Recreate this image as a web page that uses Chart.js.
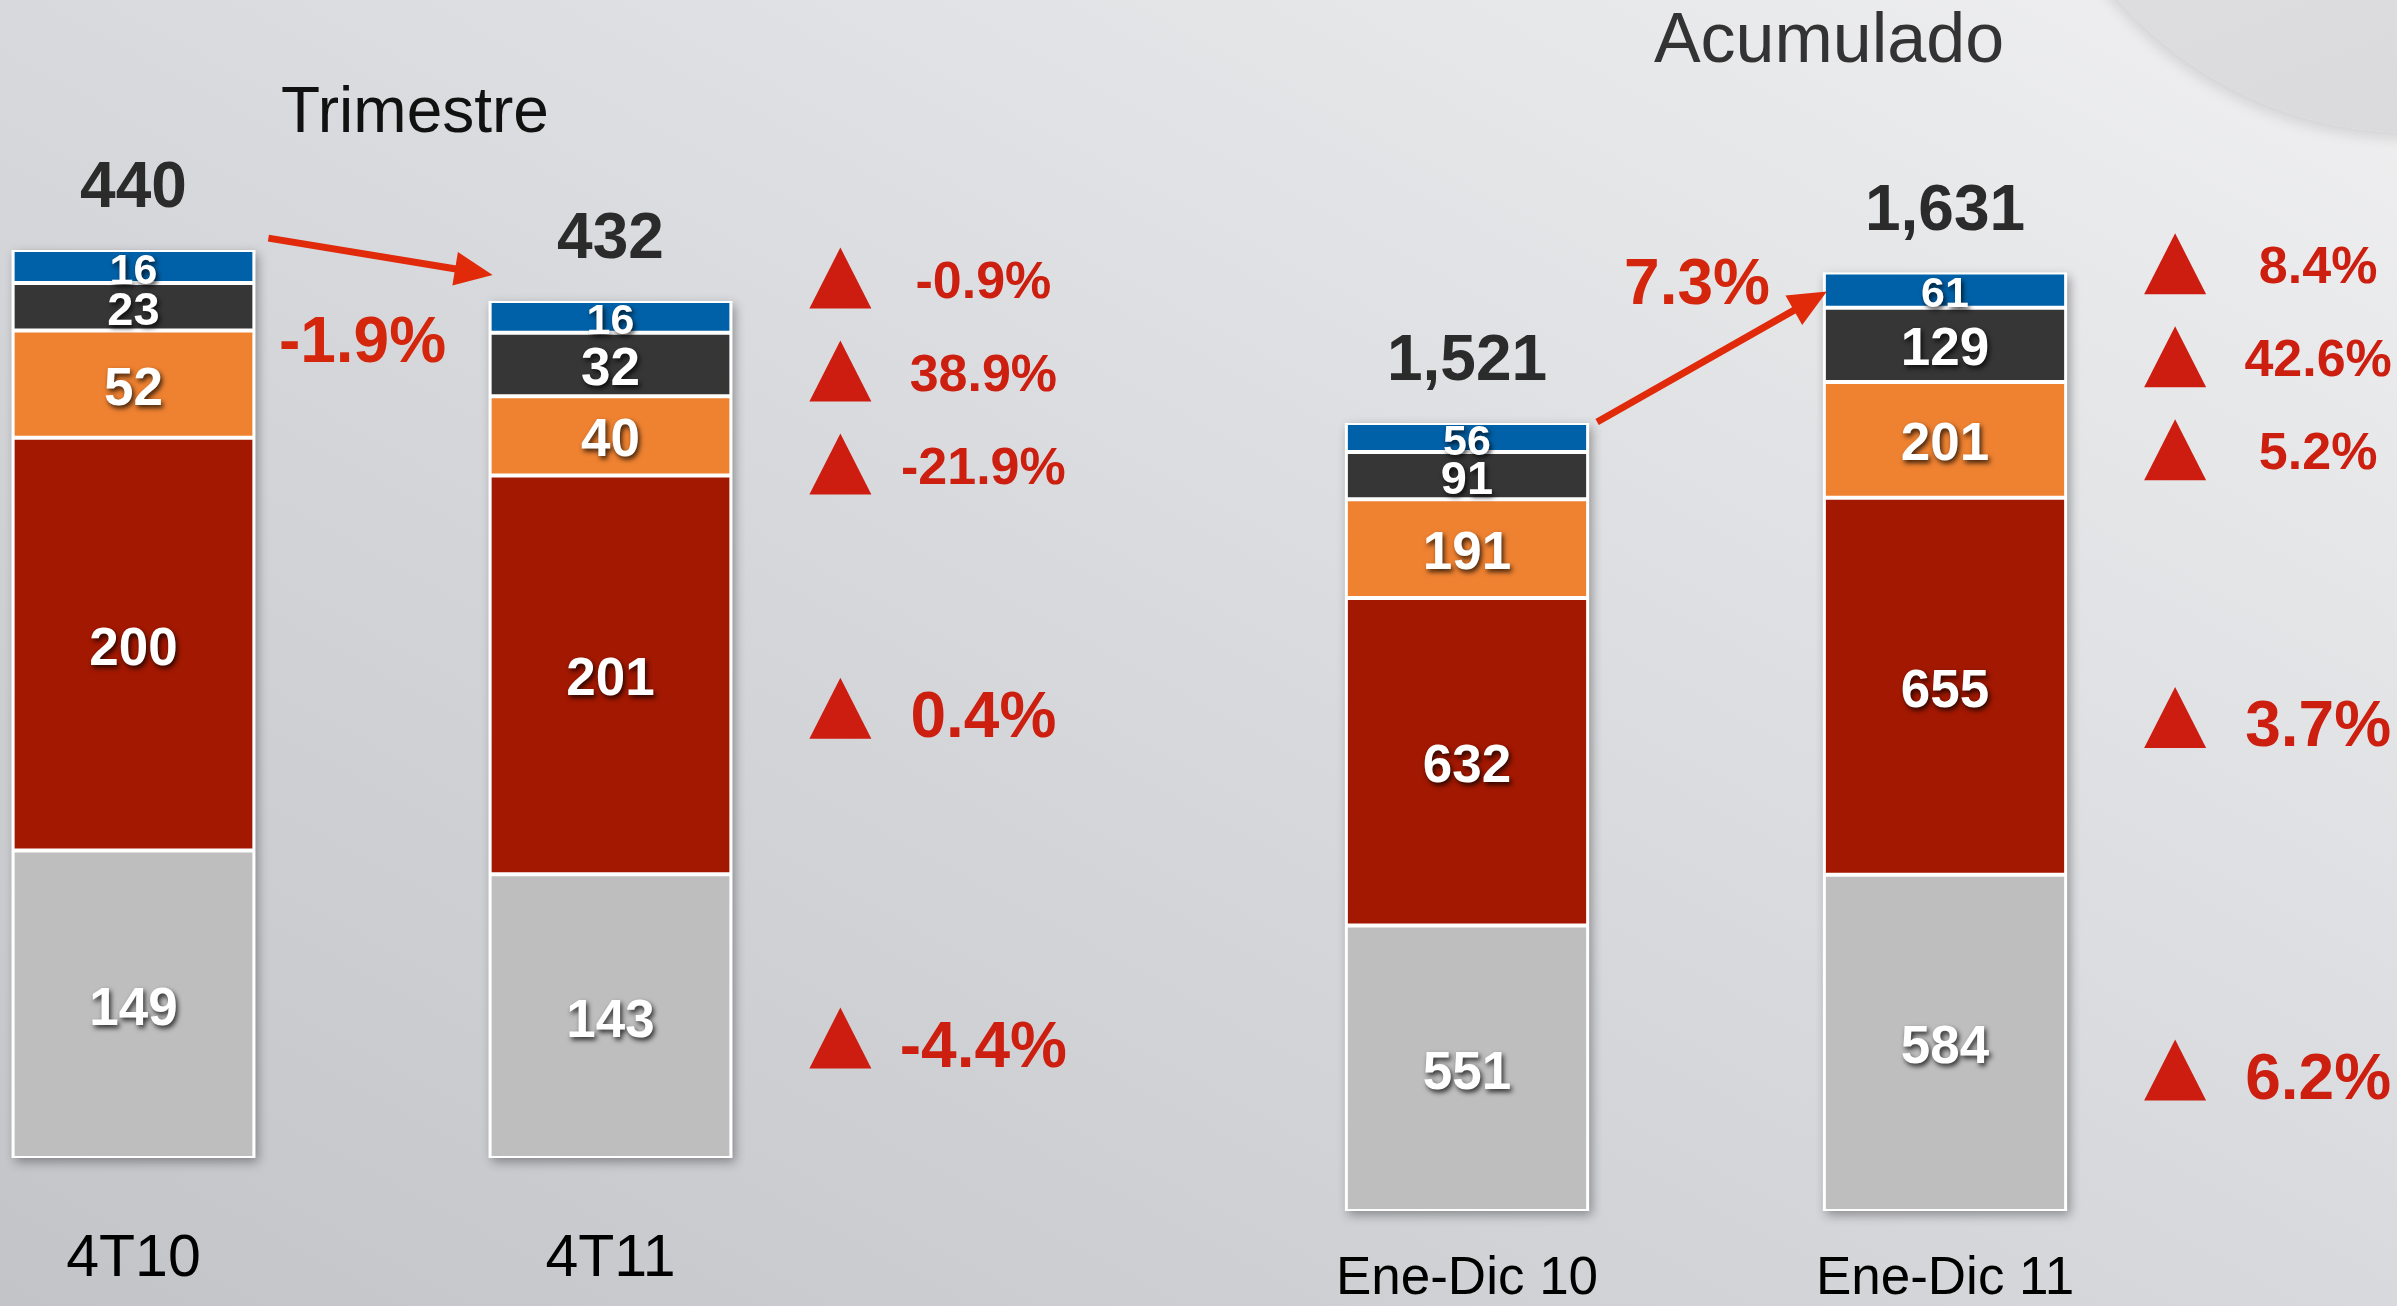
<!DOCTYPE html>
<html>
<head>
<meta charset="utf-8">
<title>Trimestre / Acumulado</title>
<script src="https://cdn.jsdelivr.net/npm/chart.js@4.4.1/dist/chart.umd.min.js"></script>
<style>
  html, body { margin: 0; padding: 0; }
  body {
    width: 2397px;
    height: 1306px;
    overflow: hidden;
    position: relative;
    background: linear-gradient(to top right, #c2c4c8 0%, #d6d7db 45%, #e4e5e7 75%, #f0f0f1 100%);
    font-family: "Liberation Sans", Arial, sans-serif;
  }
  .disc {
    position: absolute;
    left: 2021px;
    top: -649px;
    width: 782px;
    height: 782px;
    border-radius: 50%;
    background: linear-gradient(160deg, #e4e4e6 0%, #d9d9dc 100%);
    box-shadow: -2px 5px 14px rgba(0, 0, 0, 0.12);
  }
  .title {
    position: absolute;
    line-height: 1;
    white-space: nowrap;
    transform: translateX(-50%);
  }
  canvas { position: absolute; top: 0; }
</style>
</head>
<body>
<div class="disc"></div>
<div class="title" style="left:415px; top:78px; font-size:64px; color:#111;">Trimestre</div>
<div class="title" style="left:1829px; top:3px; font-size:70px; color:#333;">Acumulado</div>
<canvas id="quarterChart" width="1300" height="1400" style="left:-105px;"></canvas>
<canvas id="ytdChart" width="1169" height="1400" style="left:1228px;"></canvas>

<script>
// ---- data (segments listed bottom -> top) ----
const quarterLabels = ["4T10", "4T11"];
const quarterGray = [149, 143];
const quarterRed = [200, 201];
const quarterOrange = [52, 40];
const quarterDark = [23, 32];
const quarterBlue = [16, 16];
const quarterTotals = [440, 432];
const quarterChange = ["-4.4%", "0.4%", "-21.9%", "38.9%", "-0.9%"];
const quarterGrowth = "-1.9%";

const ytdLabels = ["Ene-Dic 10", "Ene-Dic 11"];
const ytdGray = [551, 584];
const ytdRed = [632, 655];
const ytdOrange = [191, 201];
const ytdDark = [91, 129];
const ytdBlue = [56, 61];
const ytdTotals = [1521, 1631];
const ytdChange = ["6.2%", "3.7%", "5.2%", "42.6%", "8.4%"];
const ytdGrowth = "7.3%";

const SEGMENT_COLORS = ["#bebebe", "#a31800", "#ef8231", "#363636", "#0061a8"];
const FONT = '"Liberation Sans", Arial, sans-serif';
const RED_TEXT = "#cc1f10";
const LABEL_GAP = 93;

/**
 * One dataset per segment per bar, so every bar gets its own value axis.
 */
function buildDatasets(series) {
    const sets = [];
    for (let b = 0; b < 2; b++) {
        series.forEach((vals, s) => {
            sets.push({
                data: vals.map((v, i) => (i === b ? v : null)),
                backgroundColor: SEGMENT_COLORS[s],
                borderColor: "#ffffff",
                borderWidth: { top: 2, bottom: 2, left: 3, right: 3 },
                borderSkipped: false,
                yAxisID: "y" + b,
                stack: "total",
                barPercentage: 0.511,
                categoryPercentage: 1,
                barIndex: b,
                segIndex: s,
            });
        });
    }
    return sets;
}

function barGeometry(chart, b) {
    const segs = [];
    chart.data.datasets.forEach((ds, i) => {
        if (ds.barIndex !== b) return;
        const el = chart.getDatasetMeta(i).data[b];
        segs.push({ el: el, value: ds.data[b], seg: ds.segIndex });
    });
    const first = segs[0].el;
    return {
        segs: segs,
        cx: first.x,
        left: first.x - first.width / 2,
        right: first.x + first.width / 2,
        top: Math.min(...segs.map((s) => s.el.y)),
        bottom: first.base,
    };
}

/**
 * Spread label positions so that neighbours keep at least `gap` apart,
 * centring each crowded group on the mean of what it wanted.
 */
function spreadLabels(wanted, gap) {
    let groups = wanted.map((y, i) => ({ ids: [i], mean: y }))
        .sort((a, b) => a.mean - b.mean);
    let merged = true;
    while (merged) {
        merged = false;
        for (let i = 0; i < groups.length - 1; i++) {
            const a = groups[i], c = groups[i + 1];
            const aEnd = a.mean + (a.ids.length - 1) * gap / 2;
            const cStart = c.mean - (c.ids.length - 1) * gap / 2;
            if (cStart - aEnd < gap) {
                const ids = a.ids.concat(c.ids);
                const mean = ids.reduce((t, k) => t + wanted[k], 0) / ids.length;
                groups.splice(i, 2, { ids: ids, mean: mean });
                merged = true;
                break;
            }
        }
    }
    const out = [];
    groups.forEach((g) => {
        const sorted = g.ids.slice().sort((p, q) => wanted[p] - wanted[q]);
        sorted.forEach((k, j) => {
            out[k] = g.mean + (j - (sorted.length - 1) / 2) * gap;
        });
    });
    return out;
}

function drawArrow(ctx, x1, y1, x2, y2) {
    const len = Math.hypot(x2 - x1, y2 - y1);
    const ux = (x2 - x1) / len, uy = (y2 - y1) / len;
    const headLen = 38, headW = 34;
    const bx = x2 - ux * headLen, by = y2 - uy * headLen;
    ctx.save();
    ctx.strokeStyle = "#e02a0a";
    ctx.fillStyle = "#e02a0a";
    ctx.lineWidth = 7;
    ctx.beginPath();
    ctx.moveTo(x1, y1);
    ctx.lineTo(bx + ux * 4, by + uy * 4);
    ctx.stroke();
    ctx.beginPath();
    ctx.moveTo(x2, y2);
    ctx.lineTo(bx - uy * headW / 2, by + ux * headW / 2);
    ctx.lineTo(bx + uy * headW / 2, by - ux * headW / 2);
    ctx.closePath();
    ctx.fill();
    ctx.restore();
}

const decorPlugin = {
    id: "decor",
    beforeDatasetsDraw(chart) {
        const ctx = chart.ctx;
        [0, 1].forEach((b) => {
            const bar = barGeometry(chart, b);
            ctx.save();
            ctx.shadowColor = "rgba(0,0,0,0.35)";
            ctx.shadowBlur = 10;
            ctx.shadowOffsetX = 3;
            ctx.shadowOffsetY = 4;
            ctx.fillStyle = "#ffffff";
            ctx.fillRect(bar.left, bar.top, bar.right - bar.left, bar.bottom - bar.top);
            ctx.restore();
        });
    },
    afterDatasetsDraw(chart) {
        const ctx = chart.ctx;
        [0, 1].forEach((b) => {
            barGeometry(chart, b).segs.forEach((s) => {
                const h = s.el.base - s.el.y;
                const size = h < 36 ? 43 : h < 52 ? 47 : 53;
                ctx.save();
                ctx.font = "bold " + size + "px " + FONT;
                ctx.fillStyle = "#ffffff";
                ctx.textAlign = "center";
                ctx.textBaseline = "alphabetic";
                ctx.shadowColor = "rgba(0,0,0,0.75)";
                ctx.shadowBlur = 5;
                ctx.shadowOffsetX = 2;
                ctx.shadowOffsetY = 3;
                ctx.fillText(String(s.value), s.el.x, (s.el.y + s.el.base) / 2 + size * 0.35 + 2);
                ctx.restore();
            });
        });
    },
    afterDraw(chart, args, opts) {
        const ctx = chart.ctx;
        const bars = [barGeometry(chart, 0), barGeometry(chart, 1)];

        // totals above each bar
        ctx.save();
        ctx.font = "bold 64px " + FONT;
        ctx.fillStyle = "#2b2b2b";
        ctx.textAlign = "center";
        bars.forEach((bar, b) => {
            ctx.fillText(opts.totals[b].toLocaleString("en-US"), bar.cx, bar.top - 43);
        });
        ctx.restore();

        // arrow between the bars and the growth figure
        const x1 = bars[0].right + opts.arrowFrom[0], y1 = bars[0].top + opts.arrowFrom[1];
        const x2 = bars[1].left + opts.arrowTo[0], y2 = bars[1].top + opts.arrowTo[1];
        drawArrow(ctx, x1, y1, x2, y2);
        ctx.save();
        ctx.font = "bold 64px " + FONT;
        ctx.fillStyle = "#d4260c";
        ctx.textAlign = "center";
        ctx.fillText(opts.growth, (x1 + x2) / 2 + opts.growthOffset[0], (y1 + y2) / 2 + opts.growthOffset[1]);
        ctx.restore();

        // change per segment, beside the second bar
        const bar = bars[1];
        const wanted = bar.segs.map((s) => {
            const h = s.el.base - s.el.y;
            return (s.el.y + s.el.base) / 2 + (h > 200 ? 0.1 * h : 0);
        });
        const ys = spreadLabels(wanted, LABEL_GAP);
        bar.segs.forEach((s, i) => {
            const h = s.el.base - s.el.y;
            const size = h > 200 ? 64 : 52;
            const cap = size * 0.7;
            const cy = ys[i];
            const tx = bar.right + 108;
            ctx.save();
            ctx.fillStyle = "#cc1d10";
            const tc = cy - (size > 60 ? 6 : 1);
            ctx.beginPath();
            ctx.moveTo(tx - 31, tc + 30);
            ctx.lineTo(tx + 31, tc + 30);
            ctx.lineTo(tx, tc - 31);
            ctx.closePath();
            ctx.fill();
            ctx.font = "bold " + size + "px " + FONT;
            ctx.fillStyle = RED_TEXT;
            ctx.textAlign = "center";
            ctx.fillText(opts.changes[s.seg], bar.right + 251, cy + cap / 2);
            ctx.restore();
        });
    },
};

function makeChart(canvasId, labels, series, cfg) {
    return new Chart(document.getElementById(canvasId), {
        type: "bar",
        data: { labels: labels, datasets: buildDatasets(series) },
        plugins: [decorPlugin],
        options: {
            responsive: false,
            animation: false,
            layout: { padding: { left: 0, right: cfg.padRight, top: 0, bottom: cfg.padBottom } },
            plugins: {
                legend: { display: false },
                tooltip: { enabled: false },
                decor: cfg.decor,
            },
            scales: {
                x: {
                    stacked: true,
                    offset: true,
                    grid: { display: false, drawTicks: false },
                    border: { display: false },
                    ticks: {
                        color: "#000000",
                        font: { family: FONT, size: cfg.tickSize, lineHeight: 1 },
                        padding: cfg.tickPadding,
                        maxRotation: 0,
                    },
                },
                y0: { stacked: true, display: false, min: 0, max: cfg.yMax[0] },
                y1: { stacked: true, display: false, min: 0, max: cfg.yMax[1] },
            },
        },
    });
}

makeChart("quarterChart", quarterLabels,
    [quarterGray, quarterRed, quarterOrange, quarterDark, quarterBlue], {
        padRight: 346,
        padBottom: 39,
        tickSize: 59,
        tickPadding: 72,
        yMax: [561.2, 583.7],
        decor: {
            totals: quarterTotals,
            changes: quarterChange,
            growth: quarterGrowth,
            arrowFrom: [13, -12],
            arrowTo: [4, -26],
            growthOffset: [-18, 105],
        },
    });

makeChart("ytdChart", ytdLabels,
    [ytdGray, ytdRed, ytdOrange, ytdDark, ytdBlue], {
        padRight: 213,
        padBottom: 52,
        tickSize: 53,
        tickPadding: 42,
        yMax: [2337.5, 2103.4],
        decor: {
            totals: ytdTotals,
            changes: ytdChange,
            growth: ytdGrowth,
            arrowFrom: [8, -1],
            arrowTo: [4, 19],
            growthOffset: [-15, -53],
        },
    });
</script>
</body>
</html>
